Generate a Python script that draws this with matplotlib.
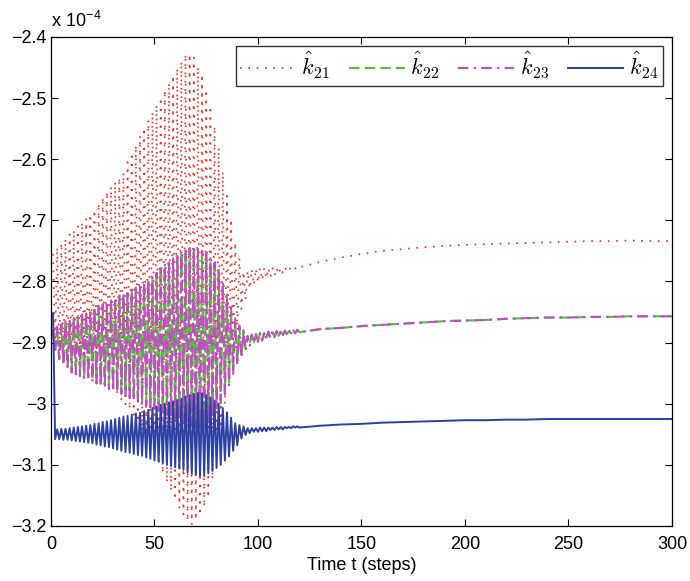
import numpy as np
import matplotlib
matplotlib.use("Agg")
import matplotlib.pyplot as plt
from matplotlib.ticker import FuncFormatter

plt.rcParams["font.family"] = ["Liberation Sans", "DejaVu Sans"]
plt.rcParams["mathtext.fontset"] = "cm"

# Gain estimates (units of 1e-4). During the transient each estimate flips
# between a high and a low value every step: hi at odd steps, lo at even steps.
k21_hi = [-2.755, -2.744, -2.737, -2.730, -2.723, -2.716, -2.710, -2.703, -2.697, -2.690,
          -2.683, -2.672, -2.662, -2.653, -2.645, -2.637, -2.630, -2.622, -2.605, -2.589,
          -2.577, -2.562, -2.549, -2.536, -2.523, -2.511, -2.499, -2.487, -2.475, -2.463,
          -2.451, -2.440, -2.428, -2.428, -2.434, -2.449, -2.461, -2.486, -2.513, -2.546,
          -2.581, -2.620, -2.660, -2.698, -2.736, -2.762, -2.784, -2.783, -2.780, -2.779,
          -2.778, -2.778, -2.778, -2.778, -2.778, -2.777, -2.777, -2.777, -2.776, -2.775]
k21_lo = [-2.905, -2.922, -2.927, -2.933, -2.939, -2.943, -2.947, -2.951, -2.955, -2.959,
          -2.963, -2.967, -2.971, -2.975, -2.979, -2.985, -2.993, -3.001, -3.009, -3.018,
          -3.030, -3.044, -3.058, -3.072, -3.086, -3.100, -3.114, -3.129, -3.143, -3.157,
          -3.171, -3.181, -3.192, -3.198, -3.190, -3.182, -3.169, -3.154, -3.124, -3.089,
          -3.040, -3.000, -2.955, -2.915, -2.880, -2.845, -2.830, -2.812, -2.806, -2.802,
          -2.798, -2.795, -2.793, -2.790, -2.788, -2.786, -2.783, -2.781, -2.779, -2.777]

k22_hi = [-2.882, -2.878, -2.874, -2.869, -2.865, -2.862, -2.859, -2.856, -2.853, -2.850,
          -2.847, -2.844, -2.841, -2.838, -2.835, -2.831, -2.827, -2.823, -2.819, -2.815,
          -2.811, -2.808, -2.804, -2.801, -2.797, -2.790, -2.783, -2.776, -2.769, -2.764,
          -2.760, -2.757, -2.754, -2.750, -2.750, -2.752, -2.755, -2.760, -2.768, -2.776,
          -2.785, -2.806, -2.826, -2.847, -2.863, -2.875, -2.882, -2.890, -2.888, -2.886,
          -2.885, -2.884, -2.883, -2.883, -2.882, -2.882, -2.881, -2.881, -2.881, -2.880]
k22_lo = [-2.912, -2.927, -2.933, -2.939, -2.945, -2.948, -2.951, -2.954, -2.957, -2.960,
          -2.963, -2.966, -2.969, -2.972, -2.975, -2.977, -2.980, -2.983, -2.986, -2.990,
          -2.993, -2.996, -2.999, -3.002, -3.005, -3.008, -3.011, -3.014, -3.017, -3.020,
          -3.023, -3.026, -3.029, -3.032, -3.035, -3.035, -3.033, -3.031, -3.020, -3.007,
          -2.995, -2.981, -2.966, -2.949, -2.933, -2.921, -2.910, -2.903, -2.900, -2.898,
          -2.896, -2.894, -2.892, -2.890, -2.889, -2.887, -2.886, -2.885, -2.884, -2.883]

k23_hi = [-2.879, -2.874, -2.870, -2.865, -2.861, -2.858, -2.855, -2.852, -2.849, -2.846,
          -2.843, -2.840, -2.837, -2.834, -2.831, -2.827, -2.823, -2.819, -2.815, -2.811,
          -2.807, -2.804, -2.800, -2.797, -2.793, -2.786, -2.779, -2.771, -2.764, -2.759,
          -2.756, -2.752, -2.749, -2.745, -2.745, -2.747, -2.750, -2.754, -2.762, -2.770,
          -2.778, -2.800, -2.820, -2.842, -2.859, -2.872, -2.880, -2.889, -2.887, -2.885,
          -2.884, -2.883, -2.882, -2.882, -2.881, -2.881, -2.880, -2.880, -2.880, -2.879]
k23_lo = [-2.915, -2.931, -2.937, -2.943, -2.949, -2.952, -2.955, -2.958, -2.961, -2.964,
          -2.967, -2.970, -2.973, -2.976, -2.979, -2.981, -2.984, -2.987, -2.990, -2.994,
          -2.997, -3.000, -3.003, -3.006, -3.009, -3.012, -3.015, -3.018, -3.021, -3.024,
          -3.027, -3.030, -3.033, -3.036, -3.039, -3.039, -3.037, -3.035, -3.024, -3.011,
          -2.999, -2.985, -2.970, -2.953, -2.937, -2.925, -2.913, -2.905, -2.901, -2.899,
          -2.897, -2.895, -2.893, -2.891, -2.890, -2.888, -2.887, -2.886, -2.885, -2.883]

k24_hi = [-2.852, -3.042, -3.041, -3.041, -3.040, -3.039, -3.038, -3.037, -3.036, -3.035,
          -3.033, -3.032, -3.030, -3.029, -3.027, -3.025, -3.023, -3.021, -3.020, -3.018,
          -3.016, -3.015, -3.012, -3.010, -3.007, -3.005, -3.002, -3.000, -2.998, -2.996,
          -2.994, -2.992, -2.988, -2.986, -2.984, -2.982, -2.983, -2.986, -2.990, -2.995,
          -3.000, -3.007, -3.014, -3.023, -3.032, -3.035, -3.037, -3.040, -3.040, -3.040,
          -3.039, -3.039, -3.039, -3.039, -3.038, -3.038, -3.038, -3.038, -3.037, -3.037]
k24_lo = [-3.058, -3.058, -3.059, -3.059, -3.060, -3.061, -3.062, -3.063, -3.064, -3.065,
          -3.067, -3.068, -3.070, -3.071, -3.073, -3.075, -3.077, -3.079, -3.080, -3.082,
          -3.084, -3.085, -3.088, -3.090, -3.093, -3.095, -3.098, -3.100, -3.102, -3.104,
          -3.106, -3.108, -3.112, -3.114, -3.116, -3.118, -3.117, -3.114, -3.110, -3.105,
          -3.100, -3.093, -3.086, -3.077, -3.068, -3.057, -3.051, -3.048, -3.046, -3.046,
          -3.045, -3.045, -3.043, -3.043, -3.042, -3.042, -3.040, -3.040, -3.039, -3.039]

# Slow settling after step 120
t_tail = [130, 140, 150, 160, 170, 180, 190, 200, 210, 220, 230, 240, 250, 260, 270, 280, 290, 300]
k21_tail = [-2.768, -2.761, -2.755, -2.750, -2.747, -2.744, -2.742, -2.740, -2.739,
            -2.738, -2.737, -2.736, -2.735, -2.734, -2.734, -2.733, -2.734, -2.734]
k22_tail = [-2.878, -2.876, -2.873, -2.871, -2.869, -2.867, -2.865, -2.864, -2.863,
            -2.861, -2.860, -2.859, -2.859, -2.858, -2.858, -2.857, -2.857, -2.857]
k23_tail = [-2.878, -2.876, -2.873, -2.871, -2.869, -2.867, -2.865, -2.864, -2.863,
            -2.861, -2.860, -2.859, -2.859, -2.858, -2.858, -2.857, -2.857, -2.857]
k24_tail = [-3.036, -3.034, -3.033, -3.031, -3.030, -3.029, -3.028, -3.027, -3.027,
            -3.026, -3.026, -3.025, -3.025, -3.025, -3.025, -3.025, -3.025, -3.025]


def build(hi, lo, tail):
    osc = np.column_stack([hi, lo]).ravel()
    t = np.concatenate([np.arange(1, len(osc) + 1), t_tail])
    return t, np.concatenate([osc, tail])


fig = plt.figure(figsize=(6.9, 5.81), dpi=100)
ax = fig.add_axes([0.0739, 0.0947, 0.9, 0.8417])

series = [
    (k21_hi, k21_lo, k21_tail, "#ee2a24", (0, (1, 4)), 1.2, r"$\hat{k}_{21}$"),
    (k22_hi, k22_lo, k22_tail, "#4fc23a", (0, (5, 2.5)), 1.5, r"$\hat{k}_{22}$"),
    (k23_hi, k23_lo, k23_tail, "#c24dc2", (0, (5, 2.5, 1.2, 2.5)), 1.5, r"$\hat{k}_{23}$"),
    (k24_hi, k24_lo, k24_tail, "#2b41a3", "-", 1.4, r"$\hat{k}_{24}$"),
]
for hi, lo, tail, col, ls, lw, lab in series:
    t, y = build(hi, lo, tail)
    ax.plot(t, y, color=col, linestyle=ls, linewidth=lw, label=lab)

ax.set_xlim(0, 300)
ax.set_ylim(-3.2, -2.4)
ax.set_xticks([0, 50, 100, 150, 200, 250, 300])
ax.set_yticks([-3.2, -3.1, -3.0, -2.9, -2.8, -2.7, -2.6, -2.5, -2.4])
ax.yaxis.set_major_formatter(FuncFormatter(lambda v, p: ("%g" % round(v, 2)).replace("-", "\u2212")))
ax.tick_params(direction="in", length=5, width=0.8, top=True, right=True, labelsize=13)
ax.tick_params(axis="x", pad=7)
for s in ax.spines.values():
    s.set_linewidth(0.9)

ax.set_xlabel("Time t (steps)", fontsize=13, labelpad=3)
ax.text(0.0, 1.012, r"x 10$^{\mathregular{-4}}$", transform=ax.transAxes,
        fontsize=13, ha="left", va="bottom")

leg = ax.legend(loc="upper right", ncol=4, fontsize=16, frameon=True, fancybox=False,
                handlelength=2.5, handletextpad=0.25, columnspacing=0.85,
                borderpad=0.2, borderaxespad=0.0, bbox_to_anchor=(0.9855, 0.982))
leg.get_frame().set_edgecolor("black")
leg.get_frame().set_linewidth(1.0)

fig.savefig("out.png", dpi=100)
